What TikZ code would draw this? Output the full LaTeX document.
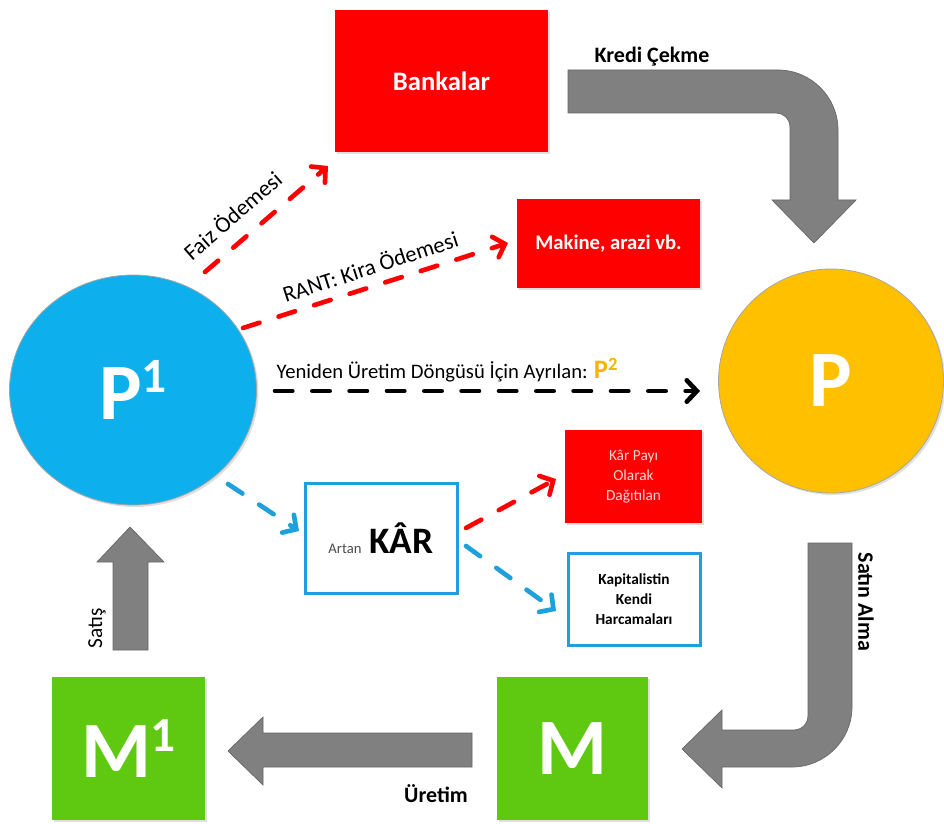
\documentclass[tikz,border=0pt]{standalone}
\usepackage{fontspec}
\setmainfont{Carlito}
\usetikzlibrary{arrows.meta,shapes.geometric,shadows}
\definecolor{bred}{RGB}{255,0,0}
\definecolor{pblue}{RGB}{13,176,236}
\definecolor{pyel}{RGB}{255,192,0}
\definecolor{mgreen}{RGB}{94,201,16}
\definecolor{kblue}{RGB}{30,160,220}
\definecolor{agray}{RGB}{128,128,128}
\definecolor{pgold}{RGB}{245,182,0}
\definecolor{lpink}{RGB}{255,212,212}
\begin{document}
\begin{tikzpicture}[x=0.75pt,y=-0.75pt,
  shadowed/.style={drop shadow={opacity=0.25,shadow xshift=1.5pt,shadow yshift=-1.5pt}},
  redbox/.style={fill=bred,inner sep=0pt,align=center,text=white,shadowed},
  bluebox/.style={draw=kblue,line width=2.25pt,fill=white,inner sep=0pt,align=center},
  greenbox/.style={fill=mgreen,inner sep=0pt,text=white,shadowed,
    font=\bfseries\fontsize{60}{60}\selectfont},
  circ/.style={ellipse,inner sep=0pt,draw=black!35,line width=0.6pt,text=white,
    font=\bfseries\fontsize{60}{60}\selectfont,shadowed},
  blockarrow/.style={fill=agray,draw=agray!80!black,line width=0.5pt},
  dflow/.style={line width=3.5pt,line cap=round,dash pattern=on 13pt off 15pt,
    -{Straight Barb[length=7.5pt,width=16pt,line cap=round]}},
  lbl/.style={font=\fontsize{17}{17}\selectfont},
  blbl/.style={font=\bfseries\fontsize{16.5}{16.5}\selectfont}
]
\useasboundingbox (0,0) rectangle (944,823);

% boxes
\node[redbox,minimum width=159.75pt,minimum height=106.5pt,font=\bfseries\fontsize{20}{20}\selectfont]
  (bank) at (441.5,81) {Bankalar};
\node[redbox,minimum width=137.25pt,minimum height=66.75pt,font=\bfseries\fontsize{15.5}{15.5}\selectfont]
  (mak) at (608.5,243.5) {Makine, arazi vb.};
\node[redbox,minimum width=102.75pt,minimum height=69.75pt,text=lpink,font=\fontsize{11.5}{15}\selectfont]
  (kpay) at (633.5,476.5) {Kâr Payı\\Olarak\\Dağıtılan};
\node[bluebox,minimum width=99pt,minimum height=69pt,font=\bfseries\fontsize{11.5}{15}\selectfont]
  (kap) at (634,599) {Kapitalistin\\Kendi\\Harcamaları};
\node[bluebox,minimum width=114pt,minimum height=82.5pt]
  (kar) at (381,538) {{\color{black!70}\fontsize{11}{11}\selectfont Artan}\hspace{6pt}{\bfseries\fontsize{28}{28}\selectfont KÂR}};

% circles
\node[circ,fill=pblue,minimum width=185.25pt,minimum height=172.5pt] (p1) at (133,390)
  {P\raisebox{0.33em}{\fontsize{37}{37}\selectfont 1}};
\node[circ,fill=pyel,minimum width=168.75pt,minimum height=168pt] (p) at (831,381) {P};

% green boxes
\node[greenbox,minimum width=114.75pt,minimum height=107.25pt] (m1) at (128.5,748.5)
  {M\raisebox{0.33em}{\fontsize{37}{37}\selectfont 1}};
\node[greenbox,minimum width=113.25pt,minimum height=107.25pt] (m) at (572.5,748.5) {M};

% block arrows
\draw[blockarrow] (568,70) -- (778,70) .. controls (811,70) and (838,97) .. (838,130)
  -- (838,200) -- (856,200) -- (814,243) -- (772,200) -- (790,200) -- (790,128)
  .. controls (790,119) and (784,113) .. (775,113) -- (568,113) -- cycle;
\draw[blockarrow] (808,543) -- (852,543) -- (852,707) .. controls (852,740) and (825,767) .. (792,767)
  -- (722,767) -- (722,788) -- (682,749) -- (722,710) -- (722,730) -- (793,730)
  .. controls (802,730) and (808,724) .. (808,715) -- cycle;
\draw[blockarrow] (472,733) -- (263,733) -- (263,717) -- (228,751) -- (263,785) -- (263,767) -- (472,767) -- cycle;
\draw[blockarrow] (113,650) -- (113,562) -- (97,562) -- (130,527) -- (164,562) -- (148,562) -- (148,650) -- cycle;

% block arrow labels
\node[blbl,anchor=base] (lkredi) at (652,63) {Kredi Çekme};
\node[blbl,rotate=-90] (lsatin) at (866,602) {Satın Alma};
\node[blbl,anchor=base] (luretim) at (436,802) {Üretim};
\node[lbl,rotate=90,font=\fontsize{16}{16}\selectfont] (lsatis) at (97,628) {Satış};

% dashed connectors
\coordinate (f1) at (205,272); \coordinate (f2) at (328,166);
\coordinate (r1) at (243,328); \coordinate (r2) at (508,243);
\coordinate (y1) at (275,391); \coordinate (y2) at (700,391);
\coordinate (b1) at (228,484); \coordinate (b2) at (299,531);
\coordinate (k1) at (466,528); \coordinate (k2) at (556,479);
\coordinate (h1) at (466,546); \coordinate (h2) at (556,611);
\draw[dflow,bred] (f1) -- (f2);
\draw[dflow,bred] (r1) -- (r2);
\draw[dflow,black] (y1) -- (y2);
\draw[dflow,kblue] (b1) -- (b2);
\draw[dflow,bred] (k1) -- (k2);
\draw[dflow,kblue] (h1) -- (h2);

% dashed connector labels
\node[lbl,rotate=41] (lfaiz) at (232,215) {Faiz Ödemesi};
\node[lbl,rotate=18] (lrant) at (370,266) {RANT: Kira Ödemesi};
\node[lbl,anchor=base west,font=\fontsize{15.5}{15.5}\selectfont] (lyen) at (272,378)
  {Yeniden Üretim Döngüsü İçin Ayrılan: {\color{pgold}\bfseries\fontsize{20}{20}\selectfont P\raisebox{0.3em}{\fontsize{14}{14}\selectfont 2}}};
\end{tikzpicture}
\end{document}
